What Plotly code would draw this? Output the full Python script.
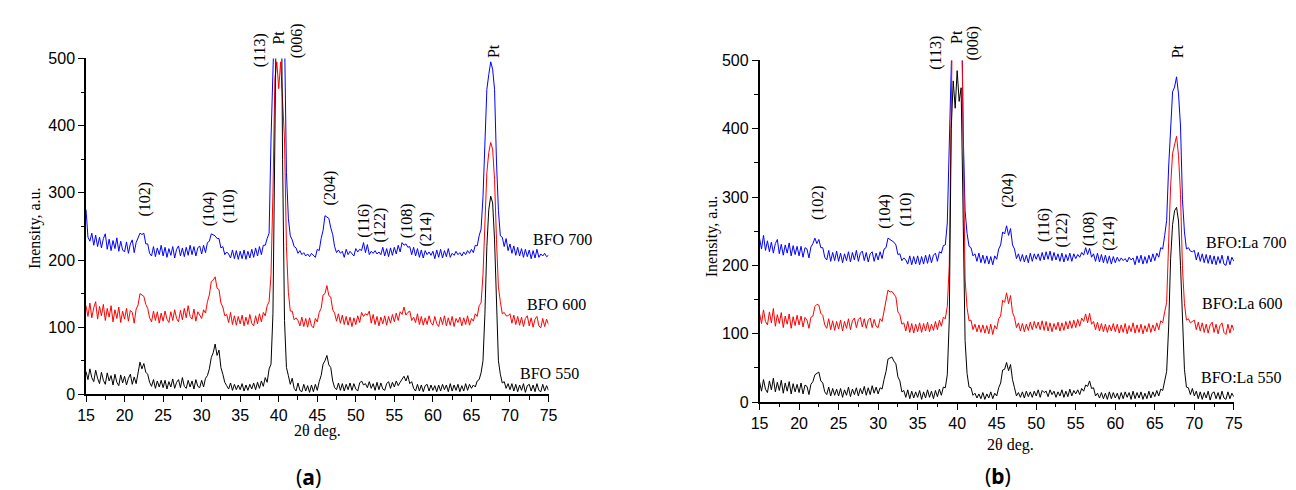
import numpy as np
import plotly.graph_objects as go

W, H = 1296, 490

# 2-theta sampling grid (deg), 0.25 deg step
two_theta = np.round(np.arange(15, 75.001, 0.25), 2)

# ---------- panel (a): BFO ----------
bfo_550 = [34, 22, 38, 25, 19, 36, 24, 16, 33, 21, 15, 32, 20, 28, 14, 30, 18, 13, 29, 17,
           27, 14, 24, 30, 15, 26, 16, 32, 48, 38, 46, 33, 30, 18, 12, 22, 9, 20, 11, 21,
           10, 21, 8, 19, 11, 23, 9, 18, 22, 10, 25, 12, 9, 21, 11, 20, 8, 22, 12, 10,
           21, 11, 24, 28, 38, 55, 62, 75, 58, 66, 40, 30, 18, 13, 8, 17, 6, 15, 7, 14,
           7, 16, 5, 14, 6, 15, 8, 17, 7, 18, 9, 20, 12, 25, 18, 38, 45, 120, 400, 700,
           900, 750, 350, 110, 40, 28, 15, 24, 9, 5, 17, 6, 4, 15, 5, 13, 3, 14, 4, 15,
           6, 19, 28, 45, 50, 58, 44, 40, 20, 10, 7, 17, 6, 16, 5, 15, 7, 17, 6, 16,
           8, 5, 17, 20, 14, 16, 10, 19, 9, 16, 6, 18, 7, 17, 8, 6, 16, 19, 9, 18,
           11, 20, 13, 18, 23, 27, 20, 28, 16, 19, 9, 5, 15, 5, 14, 4, 13, 15, 5, 14,
           6, 13, 4, 14, 5, 15, 7, 14, 4, 16, 5, 14, 6, 15, 4, 13, 5, 16, 6, 15,
           9, 14, 11, 20, 22, 32, 50, 120, 220, 275, 295, 285, 230, 130, 50, 30, 17, 19, 9, 16,
           7, 16, 5, 15, 4, 14, 6, 16, 3, 13, 15, 5, 14, 4, 16, 6, 4, 15, 5, 13,
           6]

bfo_600 = [132, 116, 136, 114, 129, 138, 112, 131, 117, 134, 110, 128, 115, 132, 108, 126, 113, 130, 107, 124,
           112, 128, 109, 125, 122, 106, 127, 133, 150, 148, 146, 134, 128, 114, 108, 124, 110, 123, 106, 121,
           109, 124, 112, 107, 123, 110, 126, 113, 108, 125, 111, 128, 114, 132, 116, 112, 127, 109, 123, 118,
           113, 126, 121, 138, 148, 168, 170, 175, 158, 156, 136, 130, 117, 119, 107, 122, 104, 117, 103, 116,
           105, 118, 102, 115, 104, 119, 106, 102, 117, 105, 120, 108, 122, 117, 132, 138, 178, 300, 470, 495,
           455, 495, 440, 380, 220, 152, 124, 124, 111, 114, 110, 102, 115, 101, 113, 100, 114, 102, 99, 113,
           108, 122, 128, 148, 150, 162, 147, 145, 126, 121, 109, 120, 106, 118, 104, 116, 103, 115, 101, 114,
           104, 117, 107, 122, 116, 120, 118, 124, 106, 119, 104, 116, 102, 115, 105, 117, 103, 116, 106, 119,
           108, 121, 110, 123, 119, 130, 118, 122, 124, 110, 115, 107, 120, 104, 116, 103, 114, 104, 117, 107,
           103, 116, 105, 101, 115, 104, 117, 102, 114, 103, 116, 101, 113, 107, 115, 102, 114, 104, 117, 103,
           113, 109, 120, 116, 132, 136, 178, 260, 330, 360, 375, 365, 320, 230, 160, 138, 120, 122, 117, 117,
           120, 106, 118, 104, 116, 103, 115, 101, 113, 117, 102, 114, 100, 112, 116, 102, 99, 113, 101, 112,
           104]

bfo_700 = [275, 234, 228, 240, 222, 237, 220, 234, 218, 232, 239, 216, 231, 214, 229, 217, 233, 213, 228, 215,
           212, 227, 210, 224, 230, 211, 226, 232, 240, 238, 240, 224, 224, 210, 206, 220, 205, 218, 208, 222,
           206, 219, 204, 217, 207, 220, 203, 216, 221, 206, 218, 205, 219, 207, 222, 208, 220, 206, 218, 221,
           209, 222, 211, 226, 228, 239, 238, 236, 232, 232, 218, 220, 208, 212, 209, 203, 215, 202, 214, 201,
           213, 202, 215, 201, 213, 203, 216, 204, 218, 206, 220, 208, 222, 222, 232, 240, 380, 600, 700, 750,
           780, 760, 700, 540, 330, 262, 236, 230, 220, 218, 210, 214, 208, 211, 206, 209, 205, 210, 207, 204,
           216, 214, 232, 244, 266, 264, 262, 248, 238, 220, 211, 215, 210, 213, 204, 216, 208, 213, 210, 206,
           217, 212, 216, 214, 226, 211, 223, 208, 213, 210, 214, 209, 212, 208, 219, 206, 217, 205, 218, 207,
           219, 209, 222, 212, 226, 222, 224, 219, 220, 208, 219, 206, 217, 204, 215, 203, 214, 208, 212, 207,
           213, 202, 215, 204, 216, 203, 214, 205, 217, 204, 210, 207, 213, 208, 211, 206, 212, 208, 214, 210,
           216, 211, 222, 221, 236, 246, 294, 376, 454, 476, 495, 484, 454, 346, 274, 236, 234, 220, 232, 214,
           224, 210, 221, 207, 219, 206, 217, 204, 216, 205, 215, 202, 214, 203, 216, 204, 209, 206, 210, 205,
           207]

# ---------- panel (b): BFO:La ----------
bfola_550 = [30, 16, 33, 19, 14, 31, 18, 35, 15, 29, 17, 32, 13, 28, 16, 30, 12, 27, 15, 26,
             14, 28, 12, 25, 23, 11, 26, 30, 40, 42, 44, 31, 28, 15, 11, 22, 9, 20, 10, 19,
             9, 20, 7, 18, 10, 22, 8, 19, 11, 21, 9, 20, 12, 23, 10, 21, 11, 24, 13, 22,
             12, 21, 19, 33, 45, 63, 65, 66, 60, 56, 37, 31, 15, 17, 7, 18, 5, 16, 6, 15,
             7, 17, 4, 15, 6, 18, 7, 16, 5, 17, 8, 19, 10, 22, 21, 40, 120, 400, 470, 430,
             485, 440, 460, 300, 90, 42, 22, 21, 10, 13, 6, 12, 5, 14, 4, 12, 6, 15, 5, 13,
             9, 21, 28, 47, 48, 58, 46, 55, 33, 21, 9, 14, 7, 15, 6, 16, 8, 15, 7, 16,
             9, 18, 7, 17, 14, 16, 8, 18, 11, 16, 7, 15, 9, 18, 7, 16, 8, 19, 9, 17,
             12, 18, 11, 20, 16, 25, 23, 31, 20, 21, 9, 13, 6, 14, 5, 13, 4, 15, 5, 14,
             6, 13, 4, 14, 5, 15, 7, 14, 4, 16, 5, 14, 6, 15, 4, 13, 5, 16, 6, 15,
             8, 17, 9, 19, 17, 31, 45, 110, 210, 260, 280, 285, 265, 200, 110, 48, 22, 21, 11, 20,
             9, 16, 5, 15, 4, 14, 6, 16, 3, 13, 15, 5, 14, 4, 16, 6, 4, 15, 5, 13,
             8]

bfola_600 = [130, 115, 135, 118, 113, 132, 116, 137, 111, 128, 115, 131, 109, 126, 114, 129, 108, 125, 112, 127,
             113, 126, 110, 124, 120, 108, 124, 126, 140, 143, 142, 130, 127, 113, 108, 122, 106, 119, 105, 118,
             107, 120, 104, 118, 108, 122, 106, 119, 123, 109, 121, 124, 110, 122, 108, 120, 123, 109, 121, 111,
             109, 122, 118, 134, 144, 164, 161, 162, 158, 154, 132, 128, 114, 116, 104, 118, 102, 115, 101, 114,
             103, 116, 102, 115, 104, 117, 103, 114, 105, 118, 106, 120, 111, 124, 122, 140, 200, 450, 650, 720,
             740, 720, 620, 380, 180, 138, 119, 120, 106, 114, 103, 113, 102, 113, 101, 112, 100, 114, 99, 112,
             107, 122, 126, 149, 146, 160, 144, 156, 131, 124, 109, 116, 104, 115, 103, 114, 105, 117, 106, 118,
             108, 117, 106, 119, 105, 118, 104, 116, 103, 115, 106, 117, 104, 116, 105, 118, 107, 119, 108, 120,
             109, 121, 111, 123, 118, 129, 116, 130, 114, 118, 106, 117, 104, 115, 103, 114, 102, 113, 104, 115,
             103, 114, 101, 113, 102, 115, 100, 112, 103, 116, 101, 113, 102, 114, 100, 112, 103, 115, 102, 113,
             104, 116, 106, 119, 116, 132, 146, 234, 316, 364, 376, 389, 361, 304, 196, 144, 120, 122, 116, 118,
             120, 106, 117, 104, 116, 102, 114, 101, 113, 117, 102, 114, 100, 112, 116, 102, 99, 114, 101, 113,
             105]

bfola_700 = [240, 224, 244, 222, 236, 220, 234, 218, 232, 238, 217, 231, 215, 230, 218, 233, 214, 229, 216, 228,
             214, 228, 212, 226, 224, 211, 227, 232, 240, 232, 238, 226, 226, 212, 208, 222, 206, 219, 207, 221,
             206, 218, 204, 217, 207, 220, 205, 219, 208, 222, 206, 218, 221, 207, 219, 205, 217, 220, 206, 218,
             208, 220, 210, 224, 226, 240, 238, 236, 234, 230, 216, 217, 207, 211, 208, 202, 214, 201, 213, 202,
             214, 201, 213, 202, 215, 203, 216, 204, 215, 218, 206, 220, 218, 229, 230, 262, 400, 650, 780, 820,
             830, 800, 650, 400, 280, 247, 228, 226, 214, 217, 206, 218, 204, 215, 203, 214, 202, 213, 201, 214,
             209, 224, 230, 249, 246, 258, 244, 254, 230, 224, 210, 217, 206, 216, 205, 215, 204, 218, 206, 217,
             209, 217, 207, 219, 208, 220, 209, 221, 207, 219, 208, 217, 206, 218, 205, 216, 207, 218, 206, 217,
             210, 216, 212, 219, 215, 226, 216, 225, 212, 217, 206, 218, 205, 216, 204, 215, 203, 214, 202, 213,
             204, 212, 206, 211, 207, 210, 205, 212, 208, 211, 201, 214, 204, 215, 202, 213, 203, 215, 205, 217,
             207, 218, 212, 226, 224, 244, 266, 344, 406, 454, 461, 476, 451, 404, 296, 249, 224, 226, 221, 220,
             222, 208, 219, 206, 217, 204, 216, 203, 215, 202, 214, 201, 213, 203, 215, 202, 200, 214, 201, 212,
             206]

for s in (bfo_550, bfo_600, bfo_700, bfola_550, bfola_600, bfola_700):
    assert len(s) == len(two_theta), len(s)

x_ticks = [15, 20, 25, 30, 35, 40, 45, 50, 55, 60, 65, 70, 75]
y_ticks = [0, 100, 200, 300, 400, 500]

# peak labels: (text, px_x, px_y) per panel
labels_a = [("(102)", 130, 190), ("(104)", 195, 200), ("(110)", 215, 197),
            ("(113)", 246, 36), ("Pt", 265, 22), ("(006)", 284, 26),
            ("(204)", 317, 178), ("(116)", 352, 212), ("(122)", 368, 216),
            ("(108)", 395, 212), ("(214)", 415, 221), ("Pt", 483, 36)]
labels_b = [("(102)", 813, 193), ("(104)", 880, 202), ("(110)", 902, 200),
            ("(113)", 932, 38), ("Pt", 952, 22), ("(006)", 970, 28),
            ("(204)", 1005, 181), ("(116)", 1042, 217), ("(122)", 1060, 222),
            ("(108)", 1087, 220), ("(214)", 1108, 225), ("Pt", 1177, 37)]
# series labels: (text, centre x px, centre y px)
series_a = [("BFO 700", 553, 232), ("BFO 600", 547, 299), ("BFO 550", 540, 370)]
series_b = [("BFO:La 700", 1246, 235), ("BFO:La 600", 1242, 298), ("BFO:La 550", 1241, 374)]

SERIF = "Liberation Serif"
SANS = "Liberation Sans"

fig = go.Figure()
for xa, ya, data in (("x", "y", (bfo_700, bfo_600, bfo_550)),
                     ("x2", "y2", (bfola_700, bfola_600, bfola_550))):
    for vals, col in zip(data, ("#0000ff", "#ff0000", "#000000")):
        fig.add_trace(go.Scatter(x=two_theta, y=vals, mode="lines", xaxis=xa, yaxis=ya,
                                 line=dict(color=col, width=1), showlegend=False,
                                 hoverinfo="skip"))

def px_x(p):
    return p / W

def px_y(p):
    return 1 - p / H

axis_common = dict(showline=True, linecolor="black", linewidth=1.5, ticks="outside",
                   ticklen=6, tickwidth=1.3, tickcolor="black", showgrid=False,
                   zeroline=False, mirror=False,
                   tickfont=dict(family=SANS, size=16, color="black"))
minor_x = dict(ticks="outside", ticklen=3.5, tickwidth=1.2, tickcolor="black", dtick=2.5)
minor_y = dict(ticks="outside", ticklen=3.5, tickwidth=1.2, tickcolor="black", dtick=50)

fig.update_layout(
    width=W, height=H, margin=dict(l=0, r=0, t=0, b=0),
    paper_bgcolor="white", plot_bgcolor="white",
    xaxis=dict(domain=[px_x(70), px_x(539)], range=[15, 75], tickvals=x_ticks,
               anchor="y", minor=minor_x, **axis_common),
    yaxis=dict(domain=[px_y(392), px_y(44)], range=[0, 500], tickvals=y_ticks,
               anchor="x", minor=minor_y, **axis_common),
    xaxis2=dict(domain=[px_x(753), px_x(1234)], range=[15, 75], tickvals=x_ticks,
                anchor="y2", minor=minor_x, **axis_common),
    yaxis2=dict(domain=[px_y(400), px_y(46)], range=[0, 500], tickvals=y_ticks,
                anchor="x2", minor=minor_y, **axis_common),
)

ann = []
for text, x, y in labels_a + labels_b:
    ann.append(dict(text=text, x=px_x(x), y=px_y(y), xref="paper", yref="paper",
                    showarrow=False, textangle=-90, xanchor="center", yanchor="middle",
                    font=dict(family=SERIF, size=16, color="black")))
for text, x, y in series_a + series_b:
    ann.append(dict(text=text, x=px_x(x), y=px_y(y), xref="paper", yref="paper",
                    showarrow=False, xanchor="center", yanchor="middle",
                    font=dict(family=SERIF, size=16, color="black")))
for x, y in ((19, 220), (705, 228)):
    ann.append(dict(text="Inensity, a.u.", x=px_x(x), y=px_y(y), xref="paper", yref="paper",
                    showarrow=False, textangle=-90, xanchor="center", yanchor="middle",
                    font=dict(family=SERIF, size=16, color="black")))
for x, y in ((305, 430), (1007, 444)):
    ann.append(dict(text="2θ deg.", x=px_x(x), y=px_y(y), xref="paper", yref="paper",
                    showarrow=False, xanchor="center", yanchor="middle",
                    font=dict(family=SERIF, size=16, color="black")))
for text, x, y in (("(<b>a</b>)", 296, 478), ("(<b>b</b>)", 995, 477)):
    ann.append(dict(text=text, x=px_x(x), y=px_y(y), xref="paper", yref="paper",
                    showarrow=False, xanchor="center", yanchor="middle",
                    font=dict(family="Noto Sans", size=21, color="black")))
fig.update_layout(annotations=ann)

fig.write_html("out.html")
